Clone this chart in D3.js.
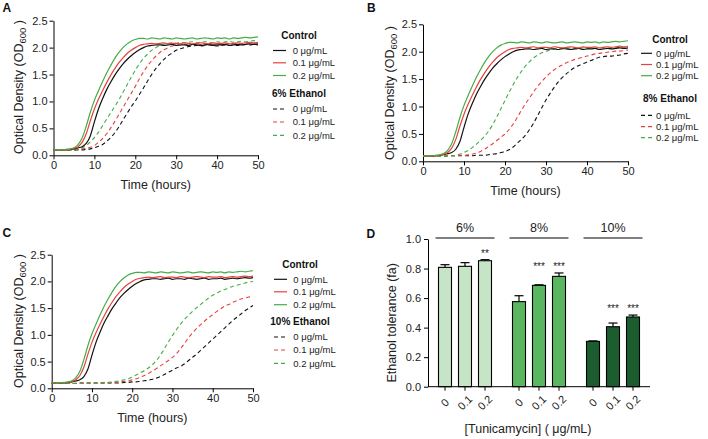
<!DOCTYPE html>
<html><head><meta charset="utf-8">
<script src="https://cdn.jsdelivr.net/npm/d3@7"></script>
<style>
body{margin:0;background:#fff}
svg{display:block}
text{font-family:"Liberation Sans",Arial,Helvetica,sans-serif}
</style>
</head><body>
<svg id="c" width="708" height="439"></svg>
<script>
// ---------------- DATA ----------------
const hours = d3.range(0, 51);
// control curves (0, 0.1, 0.2 µg/mL tunicamycin)
const ctrl0  = [0.10,0.10,0.10,0.10,0.11,0.12,0.14,0.16,0.22,0.36,0.62,0.86,1.05,1.22,1.36,1.49,1.60,1.70,1.78,1.85,1.91,1.96,2.00,2.03,2.04,2.05,2.05,2.04,2.05,2.06,2.04,2.05,2.05,2.04,2.06,2.05,2.04,2.05,2.06,2.04,2.05,2.05,2.06,2.04,2.05,2.06,2.05,2.06,2.07,2.06,2.07];
const ctrl01 = [0.10,0.10,0.10,0.10,0.11,0.13,0.16,0.24,0.40,0.64,0.86,1.04,1.20,1.35,1.49,1.61,1.72,1.81,1.89,1.95,2.00,2.04,2.06,2.07,2.08,2.07,2.08,2.09,2.07,2.08,2.08,2.07,2.09,2.08,2.07,2.08,2.09,2.08,2.07,2.09,2.08,2.08,2.09,2.07,2.08,2.09,2.08,2.09,2.10,2.09,2.10];
const ctrl02 = [0.10,0.10,0.10,0.11,0.12,0.14,0.20,0.32,0.54,0.80,1.02,1.20,1.37,1.53,1.67,1.80,1.91,2.00,2.07,2.12,2.15,2.17,2.17,2.16,2.18,2.17,2.16,2.18,2.17,2.16,2.18,2.17,2.16,2.17,2.18,2.16,2.17,2.18,2.17,2.16,2.18,2.17,2.18,2.16,2.18,2.17,2.18,2.19,2.18,2.19,2.20];
// 6% ethanol
const eth6_0  = [0.09,0.09,0.09,0.09,0.10,0.10,0.10,0.10,0.11,0.12,0.14,0.17,0.20,0.26,0.33,0.42,0.53,0.66,0.78,0.90,1.01,1.13,1.25,1.38,1.50,1.61,1.70,1.78,1.85,1.90,1.95,1.98,2.00,2.02,2.03,2.04,2.03,2.04,2.05,2.04,2.03,2.04,2.05,2.04,2.05,2.04,2.05,2.06,2.05,2.06,2.05];
const eth6_01 = [0.09,0.09,0.09,0.10,0.10,0.10,0.11,0.12,0.13,0.15,0.18,0.24,0.31,0.40,0.51,0.63,0.76,0.89,1.02,1.15,1.28,1.42,1.55,1.66,1.76,1.84,1.91,1.96,2.00,2.03,2.05,2.05,2.06,2.05,2.06,2.07,2.06,2.05,2.07,2.06,2.07,2.06,2.07,2.08,2.07,2.08,2.07,2.08,2.09,2.08,2.09];
const eth6_02 = [0.09,0.09,0.09,0.10,0.10,0.10,0.12,0.14,0.18,0.25,0.33,0.43,0.55,0.67,0.79,0.91,1.03,1.17,1.31,1.45,1.58,1.70,1.80,1.88,1.95,2.00,2.04,2.07,2.08,2.09,2.08,2.10,2.09,2.10,2.11,2.09,2.10,2.11,2.10,2.09,2.11,2.10,2.11,2.12,2.10,2.11,2.12,2.11,2.12,2.13,2.12];
// 8% ethanol
const eth8_0  = [0.09,0.09,0.09,0.09,0.09,0.09,0.10,0.10,0.10,0.10,0.10,0.10,0.10,0.11,0.11,0.11,0.12,0.13,0.14,0.16,0.18,0.21,0.26,0.33,0.40,0.48,0.58,0.70,0.84,0.98,1.12,1.24,1.35,1.45,1.53,1.60,1.66,1.71,1.75,1.78,1.81,1.84,1.87,1.90,1.91,1.92,1.92,1.93,1.94,1.96,1.97];
const eth8_01 = [0.09,0.09,0.09,0.09,0.09,0.10,0.10,0.10,0.10,0.11,0.11,0.12,0.13,0.15,0.18,0.22,0.27,0.32,0.38,0.44,0.50,0.58,0.68,0.80,0.93,1.05,1.16,1.27,1.37,1.46,1.54,1.61,1.67,1.72,1.76,1.80,1.83,1.86,1.88,1.90,1.92,1.94,1.96,1.97,1.98,1.99,2.00,2.01,2.01,2.02,2.03];
const eth8_02 = [0.09,0.09,0.09,0.09,0.09,0.09,0.10,0.10,0.11,0.13,0.16,0.20,0.25,0.31,0.38,0.46,0.55,0.67,0.81,0.96,1.11,1.26,1.40,1.53,1.64,1.74,1.82,1.89,1.94,1.98,2.01,2.03,2.05,2.06,2.05,2.06,2.07,2.06,2.05,2.07,2.06,2.07,2.06,2.07,2.08,2.07,2.06,2.07,2.08,2.07,2.08];
// 10% ethanol
const eth10_0  = [0.09,0.09,0.09,0.09,0.09,0.09,0.09,0.10,0.10,0.10,0.10,0.10,0.10,0.10,0.10,0.10,0.10,0.10,0.11,0.11,0.12,0.12,0.13,0.14,0.15,0.17,0.19,0.22,0.26,0.30,0.34,0.38,0.41,0.46,0.52,0.58,0.64,0.71,0.78,0.85,0.92,0.99,1.06,1.13,1.20,1.27,1.33,1.39,1.45,1.50,1.55];
const eth10_01 = [0.09,0.09,0.09,0.09,0.09,0.09,0.09,0.10,0.10,0.10,0.10,0.10,0.10,0.10,0.10,0.11,0.11,0.12,0.13,0.14,0.16,0.18,0.21,0.24,0.28,0.32,0.37,0.42,0.47,0.52,0.58,0.65,0.74,0.84,0.95,1.04,1.12,1.19,1.26,1.32,1.38,1.44,1.49,1.54,1.57,1.61,1.64,1.67,1.69,1.71,1.73];
const eth10_02 = [0.09,0.09,0.09,0.09,0.09,0.09,0.10,0.10,0.10,0.10,0.10,0.10,0.10,0.11,0.11,0.12,0.13,0.14,0.16,0.18,0.21,0.25,0.29,0.33,0.38,0.44,0.52,0.62,0.74,0.87,0.99,1.10,1.20,1.29,1.37,1.44,1.51,1.57,1.63,1.69,1.74,1.78,1.82,1.85,1.88,1.91,1.93,1.95,1.97,1.99,2.00];

const concLabels = ["0 μg/mL", "0.1 μg/mL", "0.2 μg/mL"];
const xTicks = [0, 10, 20, 30, 40, 50];
const yTicks = [0, 0.5, 1.0, 1.5, 2.0, 2.5];

// Panel D
const groups = ["6%", "8%", "10%"];
const doses = ["0", "0.1", "0.2"];
const tolMean = [[0.808, 0.815, 0.853], [0.576, 0.686, 0.747], [0.307, 0.406, 0.472]];
const tolErr  = [[0.018, 0.025, 0.007], [0.040, 0.004, 0.023], [0.003, 0.025, 0.013]];
const tolSig  = [["", "", "**"], ["", "***", "***"], ["", "***", "***"]];
const dTicks = [0, 0.2, 0.4, 0.6, 0.8, 1.0];

// ---------------- STYLE ----------------
const concColors = ["#111111", "#e8403c", "#45ad47"];
const barColors = ["#c6e4c6", "#5bb660", "#1b5d2f"];
const svg = d3.select("#c");

function styleAxis(sel, fs) {
  sel.selectAll("path.domain").attr("stroke", "#000").attr("stroke-width", 1);
  sel.selectAll(".tick line").attr("stroke", "#000").attr("stroke-width", 1);
  sel.selectAll(".tick text").attr("fill", "#222").style("font-size", fs + "px")
     .style("font-family", '"Liberation Sans",Arial,sans-serif');
}

function growthPanel(p) {
  const g = svg.append("g");
  const x = d3.scaleLinear().domain([0, 50]).range([p.x0, p.x1]);
  const y = d3.scaleLinear().domain([0, 2.5]).range([p.y0, p.y1]);

  const ax = g.append("g").attr("transform", `translate(0,${p.y0})`)
    .call(d3.axisBottom(x).tickValues(xTicks).tickSize(4).tickPadding(2).tickSizeOuter(0));
  styleAxis(ax, 11);
  const ay = g.append("g").attr("transform", `translate(${p.x0},0)`)
    .call(d3.axisLeft(y).tickValues(yTicks).tickFormat(d3.format(".1f")).tickSize(4).tickPadding(2).tickSizeOuter(0));
  styleAxis(ay, 11);

  const line = d3.line().x((d, i) => x(hours[i])).y(d => y(d)).curve(d3.curveMonotoneX);
  const eth = p.eth;
  eth.forEach((s, i) => {
    g.append("path").attr("d", line(s)).attr("fill", "none")
      .attr("stroke", concColors[i]).attr("stroke-width", 1.1).attr("stroke-dasharray", "4,3");
  });
  [ctrl0, ctrl01, ctrl02].forEach((s, i) => {
    g.append("path").attr("d", line(s)).attr("fill", "none")
      .attr("stroke", concColors[i]).attr("stroke-width", 1.2);
  });

  // axis titles
  g.append("text").attr("x", (p.x0 + p.x1) / 2).attr("y", p.xtY)
    .attr("text-anchor", "middle").style("font-size", "12.5px").attr("fill", "#222").text("Time (hours)");
  const yt = g.append("text").attr("transform", `translate(${p.ytX},${p.ytY}) rotate(-90)`)
    .attr("text-anchor", "middle").style("font-size", "12.5px").attr("fill", "#222");
  yt.append("tspan").text("Optical Density (OD");
  yt.append("tspan").attr("dy", 3).style("font-size", "9.5px").text("600");
  yt.append("tspan").attr("dy", -3).text(" )");

  // panel label
  g.append("text").attr("x", p.lx).attr("y", p.ly).style("font-size", "12px")
    .style("font-weight", "bold").attr("fill", "#111").text(p.label);

  // legend
  const L = p.leg;
  g.append("text").attr("x", L.hx).attr("y", L.hy[0]).attr("text-anchor", "middle")
    .style("font-size", "10px").style("font-weight", "bold").attr("fill", "#111").text("Control");
  g.append("text").attr("x", L.hx).attr("y", L.hy[1]).attr("text-anchor", "middle")
    .style("font-size", "10px").style("font-weight", "bold").attr("fill", "#111").text(p.ethLabel);
  concLabels.forEach((t, i) => {
    [0, 1].forEach(k => {
      const yy = L.rows[k][i];
      g.append("line").attr("x1", L.lx0).attr("x2", L.lx1).attr("y1", yy).attr("y2", yy)
        .attr("stroke", concColors[i]).attr("stroke-width", 1.2)
        .attr("stroke-dasharray", k === 1 ? "4,3" : null);
      g.append("text").attr("x", L.tx).attr("y", yy).attr("dy", "0.35em")
        .style("font-size", "9.5px").attr("fill", "#222").text(t);
    });
  });
}

growthPanel({
  x0: 53.5, x1: 258, y0: 155.3, y1: 20.7, xtY: 189, ytX: 23, ytY: 87,
  label: "A", lx: 2.5, ly: 11.7, ethLabel: "6% Ethanol",
  eth: [eth6_0, eth6_01, eth6_02],
  leg: { hx: 299, hy: [39.2, 96.8], lx0: 273, lx1: 286, tx: 292.7,
         rows: [[50.5, 62.8, 75.5], [109, 122, 135.3]] }
});
growthPanel({
  x0: 423, x1: 628, y0: 161.3, y1: 24.3, xtY: 195, ytX: 394, ytY: 93,
  label: "B", lx: 367, ly: 11.5, ethLabel: "8% Ethanol",
  eth: [eth8_0, eth8_01, eth8_02],
  leg: { hx: 670, hy: [43.2, 102.2], lx0: 641, lx1: 652, tx: 656,
         rows: [[53.3, 64.5, 75.7], [115.3, 126.7, 137.7]] }
});
growthPanel({
  x0: 51.7, x1: 253, y0: 388.3, y1: 254.7, xtY: 422, ytX: 23, ytY: 321,
  label: "C", lx: 2.5, ly: 236.5, ethLabel: "10% Ethanol",
  eth: [eth10_0, eth10_01, eth10_02],
  leg: { hx: 300, hy: [268.2, 324.5], lx0: 274, lx1: 287, tx: 293.3,
         rows: [[279.3, 291.8, 304.7], [337, 350, 363.3]] }
});

// ---------------- PANEL D ----------------
(function () {
  const g = svg.append("g");
  const X0 = 428, X1 = 650, Y0 = 386.7, Y1 = 239;
  const y = d3.scaleLinear().domain([0, 1]).range([Y0, Y1]);
  const xg = d3.scaleBand().domain(groups).range([X0, X1]).padding(0);
  const xb = d3.scaleBand().domain(doses).range([0, xg.bandwidth()]).paddingInner(0.35).paddingOuter(0.525);

  const ay = g.append("g").attr("transform", `translate(${X0},0)`)
    .call(d3.axisLeft(y).tickValues(dTicks).tickFormat(d3.format(".1f")).tickSize(4).tickPadding(3).tickSizeOuter(0));
  styleAxis(ay, 11);

  // bars
  groups.forEach((gr, gi) => {
    const gx = xg(gr);
    doses.forEach((ds, di) => {
      const bx = gx + xb(ds);
      const v = tolMean[gi][di], e = tolErr[gi][di];
      const cx = bx + xb.bandwidth() / 2;
      // error bar (upper)
      g.append("line").attr("x1", cx).attr("x2", cx).attr("y1", y(v)).attr("y2", y(v + e))
        .attr("stroke", "#000").attr("stroke-width", 1.2);
      g.append("line").attr("x1", cx - 4.5).attr("x2", cx + 4.5).attr("y1", y(v + e)).attr("y2", y(v + e))
        .attr("stroke", "#000").attr("stroke-width", 1.2);
      g.append("rect").attr("x", bx).attr("y", y(v)).attr("width", xb.bandwidth()).attr("height", Y0 - y(v))
        .attr("fill", barColors[gi]).attr("stroke", "#000").attr("stroke-width", 1.1);
      // x tick
      g.append("line").attr("x1", cx).attr("x2", cx).attr("y1", Y0).attr("y2", Y0 + 4)
        .attr("stroke", "#000");
      g.append("text").attr("transform", `translate(${cx},${Y0 + 16}) rotate(-45)`)
        .attr("text-anchor", "middle").attr("dy", "0.35em").style("font-size", "11px").attr("fill", "#222").text(ds);
    });
    // significance: aligned at highest error bar among starred bars in group
    const starred = doses.map((d, i) => i).filter(i => tolSig[gi][i]);
    if (starred.length) {
      const topV = d3.max(starred, i => tolMean[gi][i] + tolErr[gi][i]);
      starred.forEach(i => {
        const cx = gx + xb(doses[i]) + xb.bandwidth() / 2;
        g.append("text").attr("x", cx).attr("y", y(topV) - 3).attr("text-anchor", "middle")
          .style("font-size", "10px").attr("fill", "#222").text(tolSig[gi][i]);
      });
    }
    // group line + label
    const gc = gx + xg.bandwidth() / 2;
    g.append("line").attr("x1", gc - 29.5).attr("x2", gc + 29.5).attr("y1", 238).attr("y2", 238)
      .attr("stroke", "#555").attr("stroke-width", 1.4);
    g.append("text").attr("x", gc).attr("y", 231.5).attr("text-anchor", "middle")
      .style("font-size", "12.5px").attr("fill", "#222").text(gr);
  });

  // x axis line
  g.append("line").attr("x1", X0).attr("x2", X1).attr("y1", Y0).attr("y2", Y0).attr("stroke", "#000");

  g.append("text").attr("x", 528).attr("y", 432.5).attr("text-anchor", "middle")
    .style("font-size", "12.5px").attr("fill", "#222").text("[Tunicamycin] ( μg/mL)");
  g.append("text").attr("transform", `translate(395.5,${(Y0 + Y1) / 2 + 10}) rotate(-90)`)
    .attr("text-anchor", "middle").style("font-size", "12.5px").attr("fill", "#222").text("Ethanol tolerance (fa)");
  g.append("text").attr("x", 366.5).attr("y", 238).style("font-size", "12px")
    .style("font-weight", "bold").attr("fill", "#111").text("D");
})();
</script>
</body></html>
